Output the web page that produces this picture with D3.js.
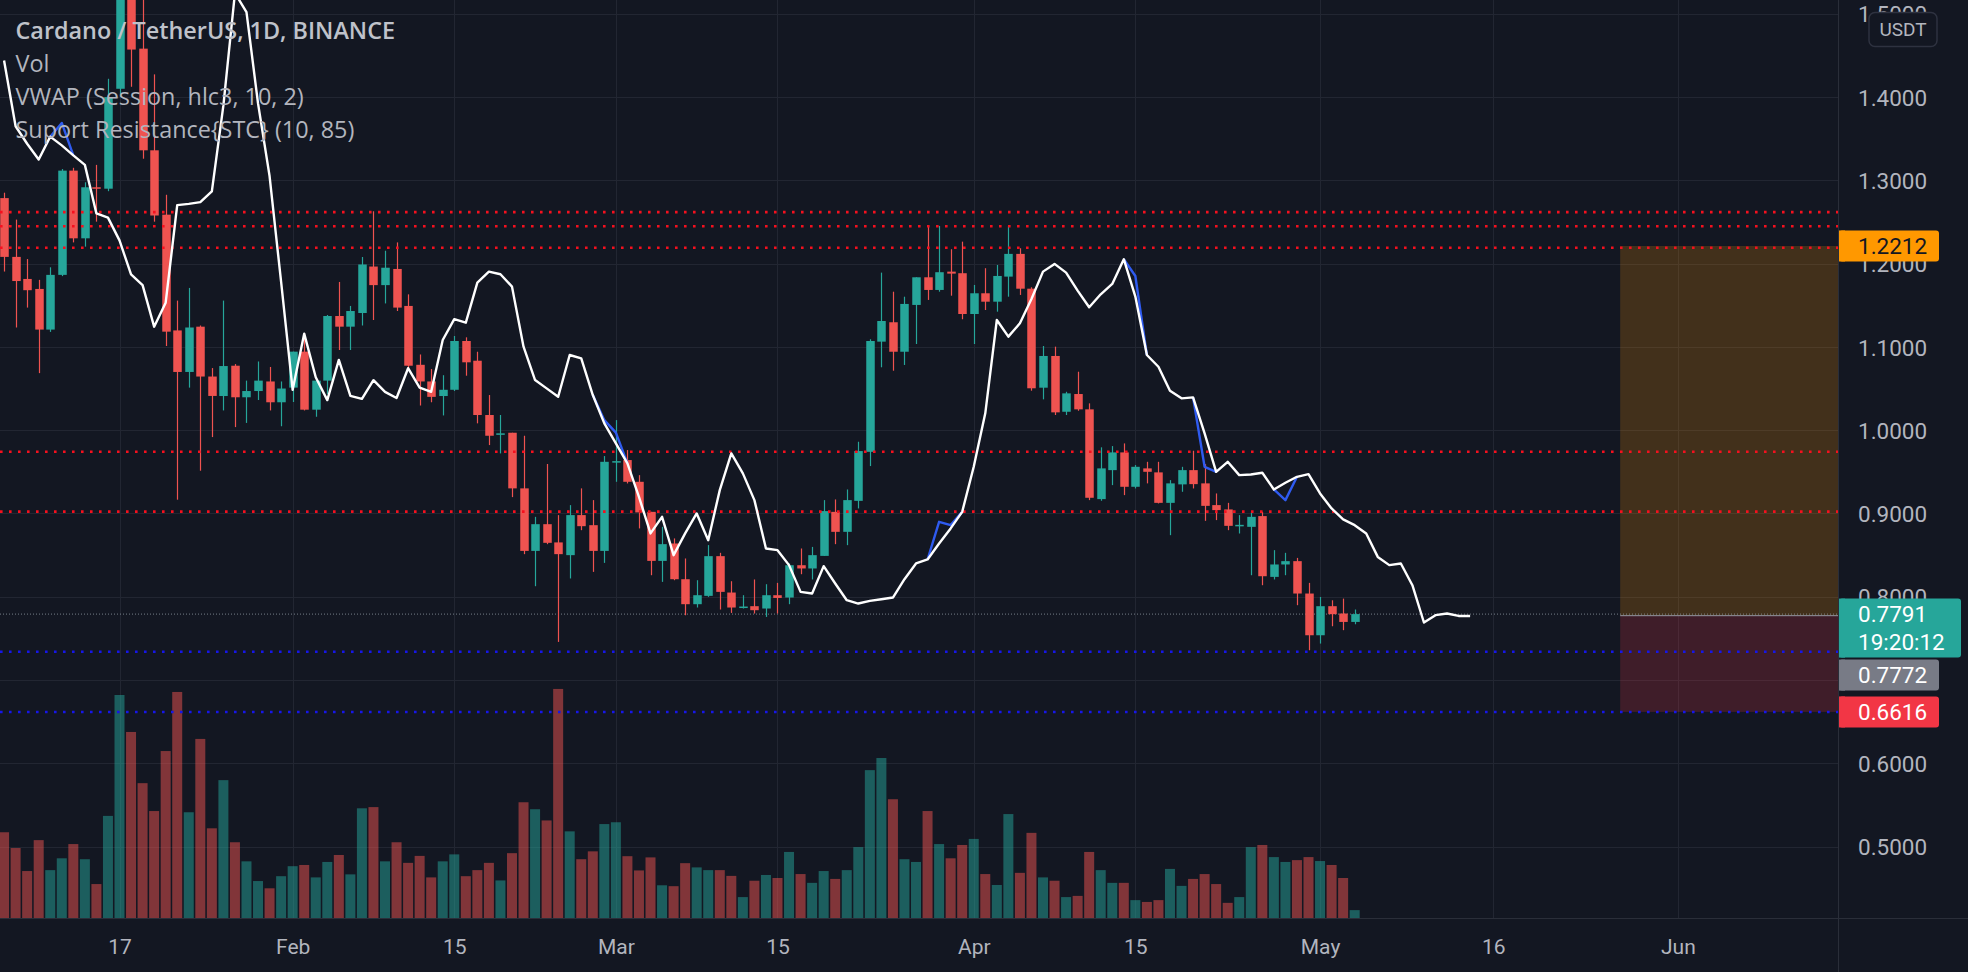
<!DOCTYPE html>
<html><head><meta charset="utf-8">
<script src="https://cdn.jsdelivr.net/npm/d3@7/dist/d3.min.js"></script>
<style>html,body{margin:0;padding:0;background:#131722;overflow:hidden}</style>
</head><body>
<svg id="c" width="1968" height="972"></svg>
<script>
// ---------- DATA ----------
const dates = [
"2022-01-07","2022-01-08","2022-01-09","2022-01-10","2022-01-11","2022-01-12","2022-01-13","2022-01-14","2022-01-15","2022-01-16",
"2022-01-17","2022-01-18","2022-01-19","2022-01-20","2022-01-21","2022-01-22","2022-01-23","2022-01-24","2022-01-25","2022-01-26",
"2022-01-27","2022-01-28","2022-01-29","2022-01-30","2022-01-31","2022-02-01","2022-02-02","2022-02-03","2022-02-04","2022-02-05",
"2022-02-06","2022-02-07","2022-02-08","2022-02-09","2022-02-10","2022-02-11","2022-02-12","2022-02-13","2022-02-14","2022-02-15",
"2022-02-16","2022-02-17","2022-02-18","2022-02-19","2022-02-20","2022-02-21","2022-02-22","2022-02-23","2022-02-24","2022-02-25",
"2022-02-26","2022-02-27","2022-02-28","2022-03-01","2022-03-02","2022-03-03","2022-03-04","2022-03-05","2022-03-06","2022-03-07",
"2022-03-08","2022-03-09","2022-03-10","2022-03-11","2022-03-12","2022-03-13","2022-03-14","2022-03-15","2022-03-16","2022-03-17",
"2022-03-18","2022-03-19","2022-03-20","2022-03-21","2022-03-22","2022-03-23","2022-03-24","2022-03-25","2022-03-26","2022-03-27",
"2022-03-28","2022-03-29","2022-03-30","2022-03-31","2022-04-01","2022-04-02","2022-04-03","2022-04-04","2022-04-05","2022-04-06",
"2022-04-07","2022-04-08","2022-04-09","2022-04-10","2022-04-11","2022-04-12","2022-04-13","2022-04-14","2022-04-15","2022-04-16",
"2022-04-17","2022-04-18","2022-04-19","2022-04-20","2022-04-21","2022-04-22","2022-04-23","2022-04-24","2022-04-25","2022-04-26",
"2022-04-27","2022-04-28","2022-04-29","2022-04-30","2022-05-01","2022-05-02","2022-05-03","2022-05-04","2022-05-05","2022-05-06",
"2022-05-07","2022-05-08","2022-05-09","2022-05-10","2022-05-11","2022-05-12","2022-05-13","2022-05-14"];

const open = [
1.2787,1.2081,1.1816,1.1696,1.1208,1.1865,1.3117,1.2304,1.2917,1.2900,
1.4100,1.5600,1.4582,1.3361,1.2588,1.1198,1.0699,1.1243,1.0644,1.0410,
1.0774,1.0395,1.0470,1.0585,1.0335,1.0511,1.0943,1.0246,1.0595,1.1371,
1.1243,1.1407,1.1965,1.1742,1.1936,1.1492,1.0785,1.0585,1.0410,1.0485,
1.1071,1.0834,1.0182,0.9945,0.9969,0.9301,0.8550,0.8871,0.8652,0.8499,
0.8980,0.8859,0.8550,0.9620,0.9641,0.9380,0.9019,0.8430,0.8639,0.8210,
0.7910,0.8010,0.8487,0.8050,0.7874,0.7886,0.7858,0.8018,0.7990,0.8378,
0.8339,0.8490,0.9019,0.8779,0.9151,0.9740,1.1063,1.1296,1.0942,1.1504,
1.1836,1.1684,1.1904,1.1885,1.1395,1.1644,1.1543,1.1844,1.2117,1.1699,
1.0510,1.0891,1.0221,1.0434,1.0250,0.9172,0.9520,0.9733,0.9320,0.9541,
0.9493,0.9127,0.9349,0.9520,0.9361,0.9100,0.9048,0.8856,0.8839,0.8968,
0.8238,0.8387,0.8427,0.8038,0.7537,0.7886,0.7798,0.7697];

const high = [
1.2852,1.2529,1.2055,1.1805,1.1956,1.3136,1.3151,1.2977,1.3186,1.4220,
1.6000,1.5850,1.5300,1.4273,1.2827,1.1556,1.1708,1.1257,1.0746,1.1556,
1.0794,1.0595,1.0825,1.0759,1.0585,1.0943,1.1159,1.0595,1.1383,1.1780,
1.1492,1.2080,1.2629,1.2155,1.2255,1.1631,1.0909,1.0734,1.0660,1.1131,
1.1115,1.0942,1.0422,1.0182,0.9969,0.9933,0.8959,0.9594,0.8980,0.9100,
0.9301,0.9160,0.9689,1.0121,0.9761,0.9460,0.9019,0.8839,0.8700,0.8459,
0.8198,0.8620,0.8527,0.8186,0.8018,0.8207,0.8150,0.8166,0.8399,0.8579,
0.8598,0.9160,0.9168,0.9288,0.9861,1.1092,1.1892,1.1663,1.1603,1.1836,
1.2453,1.2453,1.2173,1.2264,1.1744,1.1945,1.1984,1.2453,1.2185,1.1716,
1.1011,1.1003,1.0461,1.0702,1.0322,0.9794,0.9809,0.9841,0.9581,0.9620,
0.9620,0.9400,0.9560,0.9753,0.9592,0.9240,0.9127,0.8980,0.9019,0.9019,
0.8559,0.8527,0.8466,0.8166,0.7997,0.7957,0.7977,0.7846];

const low = [
1.1905,1.1233,1.1472,1.0685,1.1180,1.1850,1.2255,1.2204,1.2504,1.2870,
1.4000,1.4124,1.3260,1.2504,1.1011,0.9165,1.0511,0.9513,0.9917,1.0237,
1.0037,1.0087,1.0362,1.0237,1.0047,1.0338,1.0237,1.0161,1.0435,1.0963,
1.0963,1.1257,1.1323,1.1522,1.1431,1.0734,1.0296,1.0335,1.0177,1.0470,
1.0654,1.0082,0.9821,0.9721,0.9196,0.8511,0.8126,0.8631,0.7457,0.8219,
0.8799,0.8298,0.8406,0.9380,0.9360,0.8820,0.8258,0.8178,0.8198,0.7777,
0.7870,0.7998,0.7846,0.7805,0.7858,0.7798,0.7757,0.7798,0.7910,0.8270,
0.8207,0.8490,0.8631,0.8619,0.9060,0.9569,1.0755,1.0714,1.0783,1.1035,
1.1564,1.1663,1.1615,1.1332,1.1035,1.1443,1.1423,1.1603,1.1624,1.0474,
1.0370,1.0182,1.0182,1.0233,0.9160,0.9152,0.9340,0.9220,0.9300,0.9361,
0.9120,0.8739,0.9260,0.9300,0.8911,0.8920,0.8799,0.8759,0.8258,0.8138,
0.8207,0.8258,0.7898,0.7357,0.7437,0.7645,0.7598,0.7669];

const close = [
1.2081,1.1791,1.1681,1.1208,1.1865,1.3117,1.2304,1.2917,1.2900,1.4000,
1.5600,1.4571,1.3361,1.2578,1.1183,1.0699,1.1233,1.0644,1.0411,1.0770,
1.0395,1.0470,1.0595,1.0335,1.0500,1.0943,1.0246,1.0595,1.1371,1.1243,
1.1431,1.1990,1.1742,1.1951,1.1472,1.0774,1.0585,1.0400,1.0485,1.1071,
1.0815,1.0182,0.9933,0.9962,0.9301,0.8550,0.8871,0.8647,0.8511,0.8980,
0.8847,0.8550,0.9620,0.9628,0.9380,0.9012,0.8430,0.8631,0.8210,0.7910,
0.8018,0.8487,0.8058,0.7870,0.7882,0.7838,0.8018,0.7985,0.8378,0.8339,
0.8499,0.9028,0.8779,0.9160,0.9749,1.1071,1.1311,1.0942,1.1516,1.1836,
1.1684,1.1897,1.1880,1.1395,1.1644,1.1543,1.1852,1.2117,1.1699,1.0503,
1.0891,1.0214,1.0442,1.0250,0.9188,0.9541,0.9733,0.9320,0.9560,0.9500,
0.9127,0.9361,0.9520,0.9352,0.9091,0.9040,0.8851,0.8863,0.8959,0.8246,
0.8387,0.8427,0.8038,0.7537,0.7886,0.7790,0.7697,0.7791];

// volume, millions of ADA
const volume = [
283,231,155,257,158,197,244,194,112,337,
736,614,445,353,551,746,349,591,296,455,
250,187,122,98,138,171,175,134,185,208,
144,362,366,187,250,182,205,134,187,210,
138,158,182,124,214,382,359,322,756,286,
194,220,310,316,204,157,200,108,105,181,
167,158,158,139,69,123,142,132,218,145,
116,155,129,158,234,488,528,392,194,185,
353,244,197,241,261,145,109,343,149,281,
134,123,69,73,218,158,116,116,59,53,
59,162,106,129,145,112,50,69,234,241,
201,185,191,201,188,175,132,26];

// white indicator line (extends 10 bars past last candle)
const whiteLine = [
1.444,1.365,1.344,1.325,1.3525,1.342,1.330,1.3186,1.2603,1.2553,
1.2279,1.1870,1.1742,1.1243,1.1531,1.2703,1.2718,1.2738,1.2868,1.390,
1.525,1.502,1.3924,1.3052,1.178,1.0485,1.1159,1.0635,1.0361,1.0844,
1.0411,1.0376,1.0600,1.0460,1.0386,1.0744,1.0511,1.0460,1.1083,1.1333,
1.1291,1.1771,1.1904,1.1873,1.1724,1.1003,1.0602,1.0502,1.0401,1.0903,
1.0863,1.0422,1.0082,0.9841,0.9601,0.9199,0.8760,0.8959,0.8499,0.8760,
0.9000,0.8679,0.9280,0.9721,0.9481,0.9160,0.8579,0.8559,0.8379,0.8058,
0.8039,0.8367,0.8159,0.7958,0.7918,0.7950,0.7970,0.7990,0.8210,0.8399,
0.8447,0.8639,0.8820,0.9019,0.9560,1.0202,1.1323,1.1123,1.1284,1.1575,
1.1904,1.1997,1.1892,1.1676,1.1476,1.1632,1.1756,1.2053,1.1604,1.0903,
1.0762,1.0474,1.0382,1.0394,0.9962,0.9500,0.9620,0.9460,0.9468,0.9488,
0.9288,0.9368,0.9440,0.9472,0.9240,0.9060,0.8928,0.8859,0.8759,0.8478,
0.8379,0.8399,0.8138,0.7690,0.7778,0.7798,0.7769,0.7769];

// blue line where it departs from the white one
const blueSegments = [
 [["2022-01-11",1.3525],["2022-01-12",1.369],["2022-01-13",1.330]],
 [["2022-02-27",1.0422],["2022-02-28",1.012],["2022-03-01",0.997],["2022-03-02",0.9601]],
 [["2022-03-28",0.8447],["2022-03-29",0.8899],["2022-03-30",0.886],["2022-03-31",0.9019]],
 [["2022-04-14",1.2053],["2022-04-15",1.1852],["2022-04-16",1.0903]],
 [["2022-04-20",1.0394],["2022-04-21",0.956],["2022-04-22",0.950]],
 [["2022-04-27",0.9288],["2022-04-28",0.916],["2022-04-29",0.944]]
];

const resistanceLevels = [1.2618, 1.2449, 1.2190, 0.9740, 0.9022];
const supportLevels = [0.7339, 0.6616];

const lastPrice = 0.7791, countdown = "19:20:12";
const positionTop = 1.2212, positionEntry = 0.7772, positionStop = 0.6616;
const positionStart = "2022-05-27";

const gridTicks = [1.5,1.4,1.3,1.2,1.1,1.0,0.9,0.8,0.7,0.6,0.5];
const priceTicks = [1.5,1.4,1.3,1.2,1.1,1.0,0.9,0.8,0.6,0.5];   // 0.7000 sits under the labels
const timeTicks = ["2022-01-17","2022-02-01","2022-02-15","2022-03-01","2022-03-15","2022-04-01","2022-04-15","2022-05-01","2022-05-16","2022-06-01"];
const timeTickLabels = ["17","Feb","15","Mar","15","Apr","15","May","16","Jun"];

const legendLines = ["Cardano / TetherUS, 1D, BINANCE","Vol","VWAP (Session, hlc3, 10, 2)","Suport Resistance{STC} (10, 85)"];

// ---------- DRAW ----------
const W = 1968, H = 972, PW = 1838, PH = 918;
const parse = d3.utcParse("%Y-%m-%d");
const svg = d3.select("#c");
const BG = "#131722", GRID = "#222632", TXT = "#b2b5be";
const UP = "#26a69a", DOWN = "#ef5350";

const x = d3.scaleUtc().domain([parse("2022-01-17"), parse("2022-06-01")]).range([119.5, 1677.9]);
const y = d3.scaleLinear().domain([0.5, 1.4]).range([846.5, 97.1]);
const yv = d3.scaleLinear().domain([0, 1000]).range([PH, PH - 303]);

svg.append("rect").attr("width", W).attr("height", H).attr("fill", BG);
svg.append("defs").append("clipPath").attr("id","plot").append("rect").attr("width", PW).attr("height", PH);

const plot = svg.append("g").attr("clip-path","url(#plot)");

// grid
plot.append("g").selectAll("line").data(timeTicks).join("line")
  .attr("x1", d => Math.round(x(parse(d))) + 0.5).attr("x2", d => Math.round(x(parse(d))) + 0.5)
  .attr("y1", 0).attr("y2", PH).attr("stroke", GRID).attr("stroke-width", 1);
plot.append("g").selectAll("line").data(gridTicks).join("line")
  .attr("y1", d => Math.round(y(d)) + 0.5).attr("y2", d => Math.round(y(d)) + 0.5)
  .attr("x1", 0).attr("x2", PW).attr("stroke", GRID).attr("stroke-width", 1);

// position tool
const px0 = x(parse(positionStart));
plot.append("rect").attr("x", px0).attr("y", y(positionTop)).attr("width", PW - px0)
  .attr("height", y(positionEntry) - y(positionTop)).attr("fill", "rgba(255,152,0,0.2)");
plot.append("rect").attr("x", px0).attr("y", y(positionEntry)).attr("width", PW - px0)
  .attr("height", y(positionStop) - y(positionEntry)).attr("fill", "rgba(242,54,69,0.2)");
plot.append("line").attr("x1", px0).attr("x2", PW).attr("y1", y(positionEntry)).attr("y2", y(positionEntry))
  .attr("stroke", "#9598a1").attr("stroke-width", 1);

const bars = dates.slice(0, open.length).map((d, i) => ({
  t: parse(d), o: open[i], h: high[i], l: low[i], c: close[i], v: volume[i], up: close[i] >= open[i]
}));

// volume
plot.append("g").selectAll("rect").data(bars).join("rect")
  .attr("x", d => x(d.t) - 5).attr("width", 10)
  .attr("y", d => yv(d.v)).attr("height", d => PH - yv(d.v))
  .attr("fill", d => d.up ? "rgba(38,166,154,0.5)" : "rgba(239,83,80,0.5)");

// last price line
plot.append("line").attr("x1", 0).attr("x2", PW).attr("y1", y(lastPrice)).attr("y2", y(lastPrice))
  .attr("stroke", "rgba(160,170,180,0.7)").attr("stroke-width", 1).attr("stroke-dasharray", "1 2");

// candles
const cg = plot.append("g");
cg.selectAll("line").data(bars).join("line")
  .attr("x1", d => Math.round(x(d.t)) + 0.5).attr("x2", d => Math.round(x(d.t)) + 0.5)
  .attr("y1", d => y(d.h)).attr("y2", d => y(d.l))
  .attr("stroke", d => d.up ? UP : DOWN).attr("stroke-width", 1.2);
cg.selectAll("rect").data(bars).join("rect")
  .attr("x", d => Math.round(x(d.t)) + 0.5 - 4.25).attr("width", 8.5)
  .attr("y", d => y(Math.max(d.o, d.c)))
  .attr("height", d => Math.max(1.5, Math.abs(y(d.o) - y(d.c))))
  .attr("fill", d => d.up ? UP : DOWN);

// dotted support / resistance
plot.append("g").selectAll("line").data(resistanceLevels).join("line")
  .attr("x1", 0).attr("x2", PW).attr("y1", d => y(d)).attr("y2", d => y(d))
  .attr("stroke", "#f5101e").attr("stroke-width", 2.6).attr("stroke-dasharray", "2.6 6.4");
plot.append("g").selectAll("line").data(supportLevels).join("line")
  .attr("x1", 0).attr("x2", PW).attr("y1", d => y(d)).attr("y2", d => y(d))
  .attr("stroke", "#1616e8").attr("stroke-width", 2.6).attr("stroke-dasharray", "2.6 6.4");

// indicator lines
const line = d3.line().x(d => x(parse(d[0]))).y(d => y(d[1]));
plot.append("g").selectAll("path").data(blueSegments).join("path")
  .attr("d", line).attr("fill", "none").attr("stroke", "#2f5bf0").attr("stroke-width", 2.4)
  .attr("stroke-linejoin", "round");
plot.append("path").datum(whiteLine.map((v, i) => [dates[i], v]))
  .attr("d", line).attr("fill", "none").attr("stroke", "#ffffff").attr("stroke-width", 2.4)
  .attr("stroke-linejoin", "round");

// legend
svg.append("g").selectAll("text").data(legendLines).join("text")
  .attr("x", 15.5).attr("y", (d, i) => 39 + i * 33)
  .attr("font-family", "'Open Sans', 'Noto Sans', sans-serif")
  .attr("font-size", 23.4).attr("font-weight", (d, i) => i === 0 ? 600 : 400)
  .attr("fill", (d, i) => i === 0 ? "#bfc2ca" : TXT)
  .text(d => d);

// axes borders
svg.append("rect").attr("x", PW).attr("y", 0).attr("width", W - PW).attr("height", H).attr("fill", BG);
svg.append("rect").attr("x", 0).attr("y", PH).attr("width", PW).attr("height", H - PH).attr("fill", BG);
svg.append("line").attr("x1", PW + 0.5).attr("x2", PW + 0.5).attr("y1", 0).attr("y2", H).attr("stroke", "#2a2e39");
svg.append("line").attr("x1", 0).attr("x2", W).attr("y1", PH + 0.5).attr("y2", PH + 0.5).attr("stroke", "#2a2e39");

const FONT = "Roboto, 'Liberation Sans', sans-serif";
const ya = svg.append("g").attr("transform", `translate(${PW},0)`)
  .call(d3.axisRight(y).tickValues(priceTicks).tickFormat(d3.format(".4f")).tickSize(0).tickPadding(20));
ya.select(".domain").remove();
ya.selectAll("text").attr("font-family", FONT).attr("font-size", 22.5).attr("fill", TXT).attr("dy", "0.36em");

const xa = svg.append("g").attr("transform", `translate(0,${PH})`)
  .call(d3.axisBottom(x).tickValues(timeTicks.map(parse)).tickFormat((d, i) => timeTickLabels[i]).tickSize(0).tickPadding(0));
xa.select(".domain").remove();
xa.selectAll("text").attr("font-family", FONT).attr("font-size", 21).attr("fill", TXT).attr("y", 36).attr("dy", 0);

// USDT box
svg.append("rect").attr("x", 1869).attr("y", 12.5).attr("width", 68).attr("height", 34).attr("rx", 6)
  .attr("fill", BG).attr("stroke", "#2e3240").attr("stroke-width", 1.5);
svg.append("text").attr("x", 1903).attr("y", 29.5).attr("dy", "0.36em").attr("text-anchor", "middle")
  .attr("font-family", FONT).attr("font-size", 19).attr("fill", TXT).text("USDT");

// price labels
function label(yc, h, w, fill, color, lines) {
  const top = yc - 15.5;
  svg.append("rect").attr("x", PW + 1).attr("y", top).attr("width", w).attr("height", h).attr("rx", 3).attr("fill", fill);
  svg.append("rect").attr("x", PW + 1).attr("y", top).attr("width", 6).attr("height", h).attr("fill", fill);
  lines.forEach((t, i) => svg.append("text").attr("x", 1858).attr("y", yc + i * 27.5).attr("dy", "0.36em")
    .attr("font-family", FONT).attr("font-size", 22.5).attr("fill", color).text(t));
}
const f4 = d3.format(".4f");
label(y(positionTop), 31, 100, "#ff9800", "#131722", [f4(positionTop)]);
label(y(positionStop), 31, 100, "#f23645", "#ffffff", [f4(positionStop)]);
label(y(lastPrice) + 61, 31, 100, "#787b86", "#ffffff", [f4(positionEntry)]);
label(y(lastPrice), 59, 122, "#26a69a", "#ffffff", [f4(lastPrice), countdown]);
</script>
</body></html>
